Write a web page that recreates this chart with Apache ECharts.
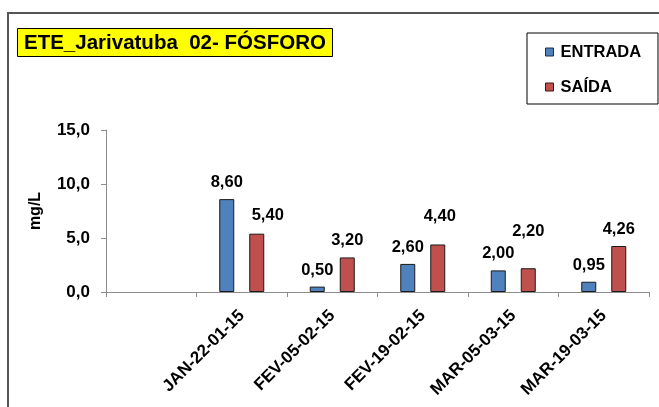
<!DOCTYPE html>
<html lang="pt">
<head>
    <meta charset="UTF-8">
    <title>ETE_Jarivatuba 02- FÓSFORO</title>
    <script type="text/javascript" src="https://cdn.jsdelivr.net/npm/echarts@6/dist/echarts.min.js"></script>
    <style>
        body{
            padding: 0px;
            margin: 0px;
            background-color: #ffffff;
        }
        #chart{
            width: 659px;
            height: 407px;
        }
    </style>
</head>
<body>
    <div id="chart"></div>
    <script>
        // dados
        var categorias = ['', 'JAN-22-01-15', 'FEV-05-02-15', 'FEV-19-02-15', 'MAR-05-03-15', 'MAR-19-03-15'];
        var entrada = [null, 8.60, 0.50, 2.60, 2.00, 0.95];
        var saida = [null, 5.40, 3.20, 4.40, 2.20, 4.26];
        var yTicks = [0, 5, 10, 15];

        // deslocamento dos rotulos da saida (o excel afasta para nao sobrepor)
        var ajusteSaida = [[0, 0], [11, -2], [0, 0], [2, -12], [0, -20], [0, 0]];

        var fonte = '"Liberation Sans", Arial, sans-serif';

        function virgula(v, casas) {
            return v.toFixed(casas).replace('.', ',');
        }

        function rotulo(dx, dy) {
            return {
                show: true,
                position: 'top',
                distance: 8,
                offset: [dx, dy],
                color: '#000',
                fontFamily: fonte,
                fontWeight: 'bold',
                fontSize: 16.5,
                formatter: function (p) { return virgula(p.value, 2); }
            };
        }

        var chart = echarts.init(document.getElementById('chart'));

        var dadosSaida = saida.map(function (v, i) {
            return { value: v, label: rotulo(ajusteSaida[i][0], ajusteSaida[i][1]) };
        });

        chart.setOption({
            animation: false,
            backgroundColor: '#fff',
            graphic: [
                // moldura da area do grafico
                { type: 'polyline', shape: { points: [[8, 407], [8, 13], [659, 13]] },
                  style: { stroke: '#555', lineWidth: 2, fill: null } },
                // caixa da legenda
                { type: 'rect', shape: { x: 527, y: 33, width: 131, height: 71 },
                  style: { stroke: '#000', lineWidth: 1, fill: '#fff' }, z: 0 }
            ],
            title: {
                text: 'ETE_Jarivatuba  02- FÓSFORO',
                left: 17,
                top: 28,
                padding: [4, 7, 3, 7],
                backgroundColor: '#ffff00',
                borderColor: '#000',
                borderWidth: 1,
                textStyle: { fontFamily: fonte, fontWeight: 'bold', fontSize: 20.5, lineHeight: 22, color: '#000' }
            },
            legend: {
                orient: 'vertical',
                left: 545,
                top: 43,
                padding: 0,
                itemWidth: 8,
                itemHeight: 8,
                itemGap: 17,
                z: 5,
                textStyle: { fontFamily: fonte, fontWeight: 'bold', fontSize: 16.5, lineHeight: 18, color: '#000', padding: [0, 0, 0, 2] },
                data: [
                    { name: 'ENTRADA', icon: 'rect', itemStyle: { borderColor: '#1f2f4a', borderWidth: 1 } },
                    { name: 'SAÍDA', icon: 'rect', itemStyle: { borderColor: '#3f1515', borderWidth: 1 } }
                ]
            },
            grid: { left: 106, right: 10, top: 130, bottom: 115 },
            xAxis: {
                type: 'category',
                data: categorias,
                axisLine: { lineStyle: { color: '#8c8c8c', width: 1 } },
                axisTick: { show: true, length: 5, lineStyle: { color: '#8c8c8c' } },
                axisLabel: {
                    rotate: 45,
                    margin: 21,
                    interval: 0,
                    color: '#000',
                    fontFamily: fonte,
                    fontWeight: 'bold',
                    fontSize: 17
                }
            },
            yAxis: {
                type: 'value',
                min: yTicks[0],
                max: yTicks[yTicks.length - 1],
                interval: 5,
                name: 'mg/L',
                nameLocation: 'middle',
                nameGap: 62,
                nameTextStyle: { fontFamily: fonte, fontWeight: 'bold', fontSize: 16, color: '#000' },
                axisLine: { show: true, lineStyle: { color: '#8c8c8c', width: 1 } },
                axisTick: { show: true, length: 5, lineStyle: { color: '#8c8c8c' } },
                splitLine: { show: false },
                axisLabel: {
                    margin: 16,
                    color: '#000',
                    fontFamily: fonte,
                    fontWeight: 'bold',
                    fontSize: 17,
                    formatter: function (v) { return virgula(v, 1); }
                }
            },
            series: [
                {
                    name: 'ENTRADA',
                    type: 'bar',
                    data: entrada,
                    barWidth: 15,
                    barGap: '100%',
                    itemStyle: { color: '#4f81bd', borderColor: '#1a1a1a', borderWidth: 1 },
                    label: rotulo(0, 0)
                },
                {
                    name: 'SAÍDA',
                    type: 'bar',
                    data: dadosSaida,
                    barWidth: 15,
                    barGap: '100%',
                    itemStyle: { color: '#c0504d', borderColor: '#1a1a1a', borderWidth: 1 },
                    label: rotulo(0, 0)
                }
            ]
        });
    </script>
</body>
</html>
